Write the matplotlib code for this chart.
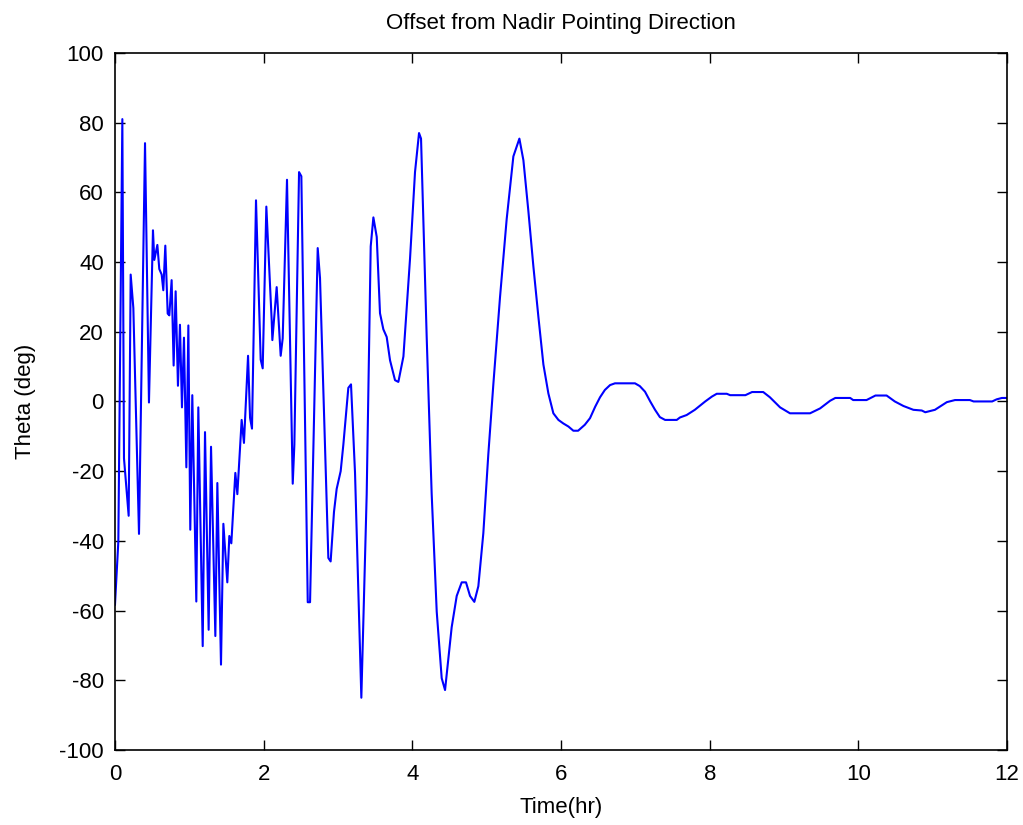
import matplotlib
matplotlib.use("Agg")
import matplotlib.pyplot as plt

# time (hr) and offset angle (deg)
time_hr = [
    0.0, 0.045, 0.099, 0.121, 0.184, 0.211, 0.247, 0.323, 0.404, 0.457,
    0.511, 0.529, 0.57, 0.596, 0.628, 0.65, 0.677, 0.709, 0.731, 0.762,
    0.789, 0.816, 0.847, 0.874, 0.901, 0.928, 0.96, 0.987, 1.013, 1.04,
    1.094, 1.121, 1.18, 1.211, 1.26, 1.292, 1.35, 1.377, 1.426, 1.458,
    1.511, 1.538, 1.565, 1.619, 1.646, 1.704, 1.735, 1.79, 1.817, 1.843,
    1.897, 1.96, 1.987, 2.036, 2.108, 2.117, 2.175, 2.229, 2.256, 2.314,
    2.391, 2.413, 2.476, 2.507, 2.593, 2.624, 2.727, 2.758, 2.87, 2.901,
    2.946, 2.982, 3.036, 3.072, 3.139, 3.175, 3.229, 3.314, 3.386, 3.44,
    3.476, 3.521, 3.565, 3.61, 3.655, 3.7, 3.767, 3.812, 3.88, 3.969,
    4.036, 4.09, 4.117, 4.193, 4.26, 4.328, 4.395, 4.44, 4.485, 4.529,
    4.597, 4.664, 4.722, 4.776, 4.834, 4.888, 4.955, 5.022, 5.09, 5.179,
    5.269, 5.359, 5.44, 5.494, 5.561, 5.628, 5.696, 5.763, 5.83, 5.897,
    5.965, 6.03, 6.1, 6.166, 6.23, 6.32, 6.39, 6.46, 6.525, 6.59,
    6.66, 6.726, 6.995, 7.06, 7.13, 7.2, 7.265, 7.33, 7.4, 7.557,
    7.6, 7.69, 7.8, 7.94, 8.03, 8.095, 8.23, 8.275, 8.48, 8.57,
    8.72, 8.81, 8.947, 9.08, 9.35, 9.485, 9.62, 9.69, 9.89, 9.93,
    10.11, 10.23, 10.38, 10.49, 10.606, 10.74, 10.853, 10.9, 11.03, 11.19,
    11.3, 11.5, 11.55, 11.8, 11.86, 11.93, 12.0,
]
theta_deg = [
    -58.3, -40.2, 81.0, -16.3, -32.8, 36.4, 26.8, -38.0, 74.1, -0.3,
    49.1, 40.6, 44.9, 38.0, 36.4, 31.9, 44.7, 25.2, 24.7, 34.8,
    10.3, 31.6, 4.5, 22.0, -1.7, 18.3, -18.9, 21.8, -36.8, 1.8,
    -57.4, -1.7, -70.2, -8.8, -65.5, -13.0, -67.3, -23.4, -75.5, -35.1,
    -51.9, -38.6, -40.7, -20.5, -26.6, -5.3, -11.9, 13.1, -4.7, -7.8,
    57.7, 12.0, 9.5, 55.9, 23.2, 17.6, 32.8, 13.1, 18.1, 63.6,
    -23.6, -12.4, 65.8, 64.6, -57.6, -57.6, 44.0, 35.4, -44.9, -45.9,
    -31.7, -25.1, -20.0, -12.4, 3.9, 4.9, -20.5, -85.0, -26.6, 44.5,
    52.8, 47.2, 25.3, 20.7, 18.5, 11.8, 6.1, 5.6, 12.9, 41.0,
    65.8, 77.0, 75.4, 18.5, -26.5, -60.3, -79.4, -82.8, -73.8, -64.8,
    -55.8, -51.9, -51.9, -55.8, -57.5, -53.0, -37.8, -15.2, 5.0, 29.8,
    52.3, 70.3, 75.4, 69.2, 54.6, 38.8, 24.2, 10.6, 2.3, -3.4,
    -5.3, -6.3, -7.2, -8.4, -8.4, -6.7, -4.8, -1.5, 1.2, 3.3,
    4.7, 5.2, 5.2, 4.4, 2.8, 0.0, -2.4, -4.5, -5.3, -5.3,
    -4.6, -3.9, -2.4, 0.0, 1.4, 2.2, 2.2, 1.8, 1.8, 2.7,
    2.7, 1.2, -1.7, -3.4, -3.4, -2.0, 0.2, 1.0, 1.0, 0.4,
    0.4, 1.7, 1.7, 0.0, -1.3, -2.4, -2.6, -3.1, -2.4, -0.2,
    0.4, 0.4, 0.0, 0.0, 0.6, 1.0, 1.0,
]

x_ticks = [0, 2, 4, 6, 8, 10, 12]
y_ticks = [-100, -80, -60, -40, -20, 0, 20, 40, 60, 80, 100]

plt.rcParams["font.family"] = ["Liberation Sans", "DejaVu Sans"]
plt.rcParams["axes.unicode_minus"] = False

fig = plt.figure(figsize=(10.23, 8.25), dpi=100)
ax = fig.add_axes([0.1124, 0.0909, 0.872, 0.845])

ax.plot(time_hr, theta_deg, color="#0000ff", lw=1.5)

ax.set_xlim(0, 12)
ax.set_ylim(-100, 100)
ax.set_xticks(x_ticks)
ax.set_yticks(y_ticks)
ax.tick_params(direction="in", top=True, right=True, length=7, width=1,
               labelsize=16)
ax.tick_params(axis="x", pad=10)
ax.tick_params(axis="y", pad=8)
for sp in ax.spines.values():
    sp.set_linewidth(1.2)

ax.set_title("Offset from Nadir Pointing Direction", fontsize=16, pad=17)
ax.set_xlabel("Time(hr)", fontsize=16, labelpad=9)
ax.set_ylabel("Theta (deg)", fontsize=16, labelpad=17)

fig.savefig("out.png", dpi=100)
